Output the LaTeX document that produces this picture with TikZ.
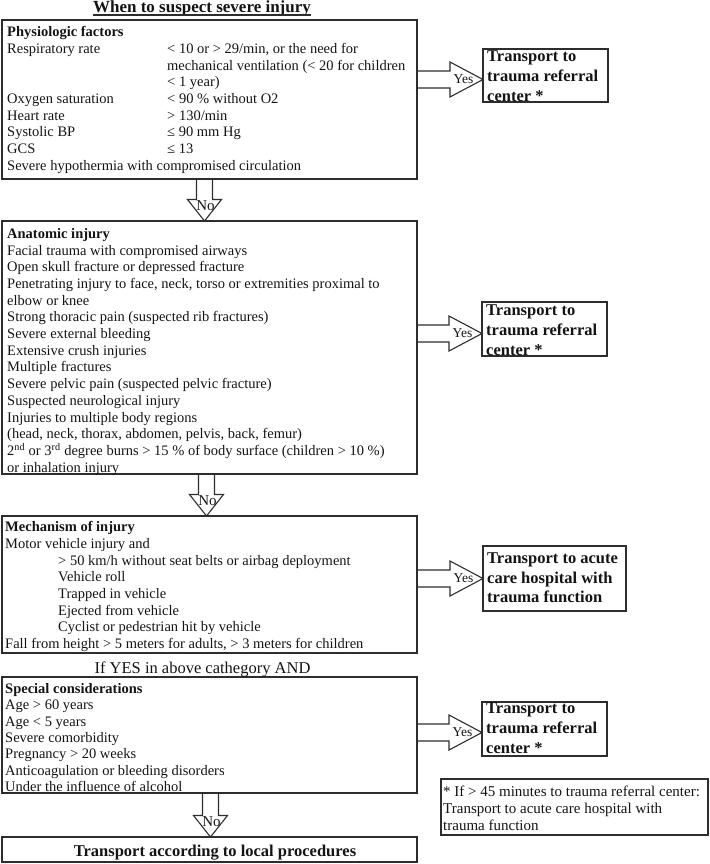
\documentclass[tikz,border=0pt]{standalone}
\usepackage{fontspec}
\setmainfont{Liberation Serif}
\usetikzlibrary{calc}
\definecolor{ln}{RGB}{45,45,45}
\definecolor{tx}{RGB}{20,20,20}
\begin{document}
\begin{tikzpicture}[x=1pt,y=-1pt,
  box/.style={draw=ln,line width=1.2pt,inner sep=0pt,outer sep=0pt},
  btext/.style={inner sep=0pt,anchor=base west,text=tx,font=\fontsize{14.5}{16.7}\selectfont},
  ttext/.style={inner sep=0pt,anchor=base west,text=tx,font=\fontsize{16.5}{20}\selectfont\bfseries},
  blk/.style={draw=ln,line width=1.1pt,line join=miter},
  yeslbl/.style={inner sep=0pt,anchor=base,text=tx,font=\fontsize{13.5}{15}\selectfont},
  nolbl/.style={inner sep=0pt,anchor=base,text=tx,font=\fontsize{15}{16}\selectfont}]
\useasboundingbox (0,0) rectangle (709,864);

% title
\node[inner sep=0pt,anchor=base,text=tx,font=\fontsize{17}{20}\selectfont\bfseries] (title) at (202,13) {When to suspect severe injury};
\draw[ln,line width=1.5pt] ([yshift=-2pt]title.base west) -- ([yshift=-2pt]title.base east);

% main boxes
\node[box,minimum width=415pt,minimum height=159pt] (phys) at (209.5,99.5) {};
\node[box,minimum width=415pt,minimum height=253pt] (anat) at (209.5,347.5) {};
\node[box,minimum width=415pt,minimum height=137pt] (mech) at (209.5,584.5) {};
\node[box,minimum width=415pt,minimum height=116pt] (spec) at (209.5,735) {};
\node[box,minimum width=415pt,minimum height=25pt] (local) at (209.5,849.5) {};

% transport boxes
\node[box,minimum width=125pt,minimum height=53pt] (t1) at (545.5,75.5) {};
\node[box,minimum width=125pt,minimum height=54pt] (t2) at (544.5,329) {};
\node[box,minimum width=143pt,minimum height=65pt] (t3) at (554.5,578.5) {};
\node[box,minimum width=125pt,minimum height=54pt] (t4) at (544.5,729) {};
\node[box,minimum width=267pt,minimum height=56pt] (note) at (574.5,807) {};

% box texts
\node[btext] (physT) at (7,36.7) {\parbox[t]{405pt}{\raggedright
\textbf{Physiologic factors}\\
\makebox[160pt][l]{Respiratory rate}< 10 or > 29/min, or the need for\\
\hspace*{160pt}mechanical ventilation (< 20 for children\\
\hspace*{160pt}< 1 year)\\
\makebox[160pt][l]{Oxygen saturation}< 90 \% without O2\\
\makebox[160pt][l]{Heart rate}> 130/min\\
\makebox[160pt][l]{Systolic BP}≤ 90 mm Hg\\
\makebox[160pt][l]{GCS}≤ 13\\
Severe hypothermia with compromised circulation}};

\node[btext] (anatT) at (7,238.3) {\parbox[t]{405pt}{\raggedright
\textbf{Anatomic injury}\\
Facial trauma with compromised airways\\
Open skull fracture or depressed fracture\\
Penetrating injury to face, neck, torso or extremities proximal to\\
elbow or knee\\
Strong thoracic pain (suspected rib fractures)\\
Severe external bleeding\\
Extensive crush injuries\\
Multiple fractures\\
Severe pelvic pain (suspected pelvic fracture)\\
Suspected neurological injury\\
Injuries to multiple body regions\\
(head, neck, thorax, abdomen, pelvis, back, femur)\\
2\textsuperscript{nd} or 3\textsuperscript{rd} degree burns > 15 \% of body surface (children > 10 \%)\\
or inhalation injury}};

\node[btext] (mechT) at (5,531.7) {\parbox[t]{408pt}{\raggedright
\textbf{Mechanism of injury}\\
Motor vehicle injury and\\
\hspace*{53pt}> 50 km/h without seat belts or airbag deployment\\
\hspace*{53pt}Vehicle roll\\
\hspace*{53pt}Trapped in vehicle\\
\hspace*{53pt}Ejected from vehicle\\
\hspace*{53pt}Cyclist or pedestrian hit by vehicle\\
Fall from height > 5 meters for adults, > 3 meters for children}};

\node[inner sep=0pt,anchor=base,text=tx,font=\fontsize{16.5}{20}\selectfont] (cond) at (202.5,673.3) {If YES in above cathegory AND};

\node[btext,font=\fontsize{14.5}{16.4}\selectfont] (specT) at (5,693.3) {\parbox[t]{408pt}{\raggedright
\textbf{Special considerations}\\
Age > 60 years\\
Age < 5 years\\
Severe comorbidity\\
Pregnancy > 20 weeks\\
Anticoagulation or bleeding disorders\\
Under the influence of alcohol}};

\node[inner sep=0pt,anchor=base,text=tx,font=\fontsize{16.5}{20}\selectfont\bfseries] (localT) at (215,856.7) {Transport according to local procedures};

% transport texts
\node[ttext] (t1T) at (487,61.7) {\parbox[t]{130pt}{\raggedright Transport to\\trauma referral\\center *}};
\node[ttext] (t2T) at (486,315) {\parbox[t]{130pt}{\raggedright Transport to\\trauma referral\\center *}};
\node[ttext,font=\fontsize{16.5}{19.7}\selectfont\bfseries] (t3T) at (487,563.3) {\parbox[t]{140pt}{\raggedright Transport to acute\\care hospital with\\trauma function}};
\node[ttext] (t4T) at (486,713.5) {\parbox[t]{130pt}{\raggedright Transport to\\trauma referral\\center *}};

\node[btext,font=\fontsize{15}{17}\selectfont] (noteT) at (443,796.7) {\parbox[t]{265pt}{\raggedright * If > 45 minutes to trauma referral center:\\Transport to acute care hospital with\\trauma function}};

% Yes arrow tips
\coordinate (y1) at ([yshift=-4pt]t1.west);
\coordinate (y2) at ([yshift=-4.5pt]t2.west);
\coordinate (y3) at (t3.west);
\coordinate (y4) at ([yshift=-3.5pt]t4.west);

\foreach \b/\t in {phys/y1,anat/y2,mech/y3,spec/y4}{
  \draw[blk] let \p1=(\t), \p2=(\b.east) in
    (\x2,\y1+8.5pt) -- (\x1-33pt,\y1+8.5pt) -- (\x1-33pt,\y1+17.5pt) -- (\t)
    -- (\x1-33pt,\y1-17.5pt) -- (\x1-33pt,\y1-8.5pt) -- (\x2,\y1-8.5pt);
  \node[yeslbl] at ([xshift=-19.5pt,yshift=-4pt]\t) {Yes};
}

% No arrow tips
\coordinate (n1) at ([xshift=-5pt]anat.north);
\coordinate (n2) at ([xshift=-3pt]mech.north);
\coordinate (n3) at ([xshift=1pt]local.north);

\foreach \b/\t in {phys/n1,anat/n2,spec/n3}{
  \draw[blk] let \p1=(\t), \p2=(\b.south) in
    (\x1-8pt,\y2) -- (\x1-8pt,\y1+21.5pt) -- (\x1-17pt,\y1+21.5pt) -- (\t)
    -- (\x1+17pt,\y1+21.5pt) -- (\x1+8pt,\y1+21.5pt) -- (\x1+8pt,\y2);
  \node[nolbl] at ([xshift=1pt,yshift=11pt]\t) {No};
}
\end{tikzpicture}
\end{document}
